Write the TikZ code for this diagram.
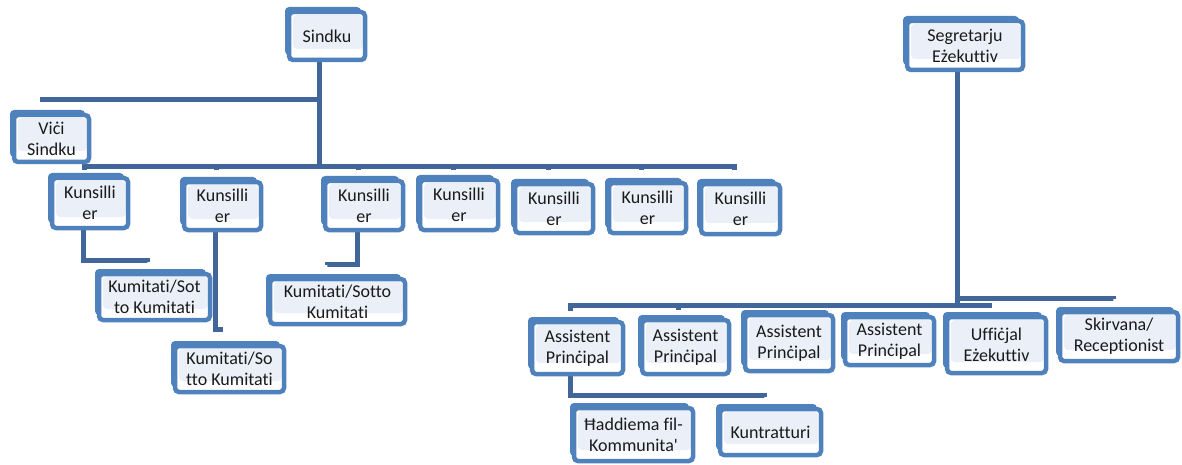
\documentclass[tikz,border=0pt]{standalone}
\usepackage{fontspec}
\setmainfont{Carlito}[Ligatures={TeXOff,NoCommon}]
\usetikzlibrary{calc,shadows,backgrounds}
\definecolor{boxblue}{HTML}{4F81BD}
\definecolor{connblue}{HTML}{41679A}
\definecolor{innerfill}{HTML}{EBF0F8}
\definecolor{txt}{HTML}{1A1A1A}
\tikzset{
  orgbox/.style={draw=boxblue, line width=4.5pt, fill=white, rounded corners=4pt,
    inner sep=0pt, align=center, font=\fontsize{18}{21}\selectfont, text=txt,
    general shadow={fill=boxblue, shadow xshift=-4pt, shadow yshift=5pt},
    path picture={\fill[innerfill] ([shift={(4pt,-3pt)}]path picture bounding box.north west)
       rectangle ([shift={(-2pt,11pt)}]path picture bounding box.south east);}},
  conn/.style={draw=connblue, line width=5pt}
}
\newcommand{\obox}[6]{\node[orgbox, minimum width=#4pt, minimum height=#5pt] (#1) at (#2,#3) {#6};}
\begin{document}
\begin{tikzpicture}[x=1pt,y=-1pt]
\useasboundingbox (0,0) rectangle (1182,465);
\obox{sindku}{327}{36}{76}{48}{Sindku}
\obox{vici}{51.5}{138.5}{75}{47}{Viċi\\Sindku}
\obox{k1}{90}{203}{76}{50}{Kunsilli\\er}
\obox{k2}{222.5}{206}{77}{48}{Kunsilli\\er}
\obox{k3}{364}{205.5}{78}{49}{Kunsilli\\er}
\obox{k4}{459}{205}{78}{50}{Kunsilli\\er}
\obox{k5}{554}{208.5}{78}{49}{Kunsilli\\er}
\obox{k6}{647.5}{208}{77}{50}{Kunsilli\\er}
\obox{k7}{740.5}{209}{79}{50}{Kunsilli\\er}
\obox{kA}{154.5}{297}{111}{46}{Kumitati/Sot\\to Kumitati}
\obox{kB}{229.5}{369}{109}{46}{Kumitati/So\\tto Kumitati}
\obox{kC}{337.5}{301.5}{135}{45}{Kumitati/Sotto\\Kumitati}
\obox{seg}{965}{45.5}{116}{49}{Segretarju\\Eżekuttiv}
\obox{ap1}{577.5}{348}{91}{52}{Assistent\\Prinċipal}
\obox{ap2}{685.5}{347}{87}{54}{Assistent\\Prinċipal}
\obox{ap3}{789}{343}{88}{56}{Assistent\\Prinċipal}
\obox{ap4}{889.5}{341}{89}{48}{Assistent\\Prinċipal}
\obox{uff}{996.5}{345}{99}{56}{Uffiċjal\\Eżekuttiv}
\obox{skir}{1119}{336.5}{118}{49}{Skirvana/\\Receptionist}
\obox{had}{633.5}{434.5}{119}{53}{Ħaddiema fil-\\Kommunita'}
\obox{kun}{770.5}{432}{101}{46}{Kuntratturi}
\coordinate (busV) at (0,100);
\coordinate (busK) at (0,167);
\coordinate (busS) at (0,305);
\coordinate (busS2) at (0,298);
\coordinate (busA) at (0,395);
\begin{scope}[on background layer]
\draw[conn] ($(sindku.south)+(-8,0)$) coordinate (st) -- (st |- busV) -| ($(vici.north)+(-9,-11)$);
\foreach \k/\d in {k1/-6,k2/-10,k3/-9,k4/-8,k5/-12,k6/-11,k7/-12}{
  \draw[conn] ($(sindku.south)+(-8,0)$) coordinate (st) -- (st |- busK) -| ($(\k.north)+(-6,\d)$);
}
\draw[conn] ($(k1.south)+(-7,0)$) -- ++(0,30) -| ($(kA.north)+(-7,-10)$);
\draw[conn] ($(k2.south)+(-7,0)$) |- ($(kB.north)+(-7,-14)$);
\draw[conn] ($(k3.south)+(-7,0)$) -- ++(0,32) -| ($(kC.north)+(-10,-12)$);
\foreach \a/\d in {ap1/-9,ap2/-8,ap3/-5,ap4/-7,uff/-7}{
  \draw[conn] ($(seg.south)+(-8,0)$) coordinate (st) -- (st |- busS) -| ($(\a.north)+(-7,\d)$);
}
\draw[conn] ($(seg.south)+(-8,0)$) coordinate (st) -- (st |- busS2) -| ($(skir.north)+(-6,-11)$);
\draw[conn] ($(ap1.south)+(-7,0)$) coordinate (st) -- (st |- busA) -| ($(had.north)+(-8,-8)$);
\draw[conn] ($(ap1.south)+(-7,0)$) coordinate (st) -- (st |- busA) -| ($(kun.north)+(-6,-10)$);
\end{scope}
\end{tikzpicture}
\end{document}
